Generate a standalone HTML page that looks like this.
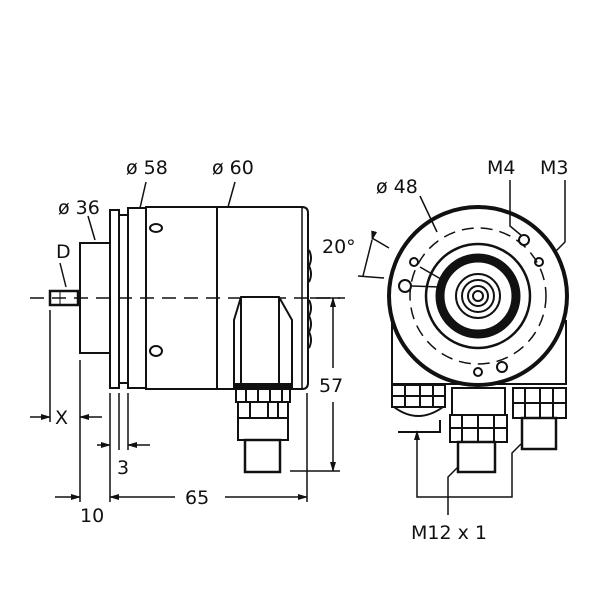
<!DOCTYPE html>
<html><head><style>
html,body{margin:0;padding:0;background:#fff;}
svg{display:block;}
text{font-family:"DejaVu Sans","Liberation Sans",sans-serif;font-size:19px;fill:#111;}
</style></head><body>
<svg width="600" height="600" viewBox="0 0 600 600" xmlns="http://www.w3.org/2000/svg">
<defs><marker id="a" markerWidth="10" markerHeight="8" refX="9" refY="4" orient="auto" markerUnits="userSpaceOnUse"><path d="M0,1 L10,4 L0,7z" fill="#111"/></marker></defs>
<g fill="none" stroke="#111" stroke-width="2">
<!-- LEFT VIEW -->
<rect x="50" y="291" width="28" height="14" stroke-width="2.5"/>
<line x1="60" y1="291" x2="60" y2="305" stroke-width="1"/>
<rect x="80" y="243" width="30" height="110"/>
<rect x="110" y="210" width="9" height="178"/>
<rect x="119" y="215" width="9" height="168"/>
<rect x="128" y="208" width="18" height="180"/>
<rect x="146" y="207" width="71" height="182"/>
<path d="M217,207 H302 Q308,207 308,213 V383 Q308,389 302,389 H217"/>
<line x1="302" y1="207" x2="302" y2="389" stroke-width="1.5"/>
<path d="M309,250 q4,8 0,16 q4,8 0,16 M309,300 q4,8 0,16 q4,8 0,16 q4,8 0,16" stroke-width="2"/>
<ellipse cx="156" cy="228" rx="6" ry="4"/><ellipse cx="156" cy="351" rx="6" ry="5"/>
<line x1="30" y1="298" x2="345" y2="298" stroke-dasharray="14,8" stroke-width="1.5"/>
<!-- connector -->
<path d="M241,297 H279 L292,320 V386 H234 V320 Z" fill="#fff"/>
<line x1="241" y1="297" x2="241" y2="386"/><line x1="279" y1="297" x2="279" y2="386"/>
<rect x="234" y="384" width="58" height="5" fill="#111"/>
<rect x="236" y="389" width="54" height="13"/><rect x="238" y="402" width="50" height="16"/>
<path d="M246,389v13 M258,389v13 M270,389v13 M282,389v13 M250,402v16 M268,402v16 M278,402v16"/>
<rect x="238" y="418" width="50" height="22"/>
<rect x="245" y="440" width="35" height="32" stroke-width="2.5"/>
<!-- leaders -->
<line x1="66" y1="287" x2="60" y2="263" stroke-width="1.5"/>
<line x1="95" y1="240" x2="88" y2="216" stroke-width="1.5"/>
<line x1="140" y1="208" x2="146" y2="182" stroke-width="1.5"/>
<line x1="228" y1="207" x2="235" y2="182" stroke-width="1.5"/>
<!-- dims -->
<g stroke-width="1.5">
<line x1="50" y1="310" x2="50" y2="422"/><line x1="80" y1="360" x2="80" y2="502"/>
<line x1="30" y1="417" x2="50" y2="417" marker-end="url(#a)"/><line x1="102" y1="417" x2="80" y2="417" marker-end="url(#a)"/>
<line x1="110" y1="393" x2="110" y2="502"/><line x1="119" y1="393" x2="119" y2="450"/><line x1="128" y1="393" x2="128" y2="450"/>
<line x1="97" y1="445" x2="110" y2="445" marker-end="url(#a)"/><line x1="150" y1="445" x2="128" y2="445" marker-end="url(#a)"/>
<line x1="55" y1="497" x2="80" y2="497" marker-end="url(#a)"/>
<line x1="175" y1="497" x2="110" y2="497" marker-end="url(#a)"/><line x1="225" y1="497" x2="307" y2="497" marker-end="url(#a)"/>
<line x1="307" y1="393" x2="307" y2="502"/>
<line x1="310" y1="298" x2="340" y2="298"/><line x1="290" y1="471" x2="340" y2="471"/>
<line x1="333" y1="368" x2="333" y2="298" marker-end="url(#a)"/><line x1="333" y1="402" x2="333" y2="471" marker-end="url(#a)"/>
</g>
<!-- RIGHT VIEW -->
<path d="M392,320 V384 H566 V320" />
<rect x="392" y="385" width="53" height="22"/><path d="M392,396H445 M405,385v22 M420,385v22 M433,385v22"/>
<path d="M394,407 Q418,425 443,407 M398,432 H440 V420" />
<rect x="452" y="388" width="53" height="27"/>
<rect x="450" y="415" width="57" height="27"/><path d="M450,428H507 M462,415v27 M478,415v27 M494,415v27"/>
<rect x="458" y="442" width="37" height="30" stroke-width="2.5"/>
<rect x="513" y="388" width="53" height="30"/><path d="M513,403H566 M525,388v30 M540,388v30 M553,388v30"/>
<rect x="522" y="418" width="34" height="31" stroke-width="2.5"/>
<circle cx="478" cy="296" r="89" fill="#fff" stroke-width="4"/>
<circle cx="478" cy="296" r="68" stroke-dasharray="12,7" stroke-width="1.5"/>
<circle cx="478" cy="296" r="52" stroke-width="2.5"/>
<circle cx="478" cy="296" r="38" stroke-width="9"/>
<circle cx="478" cy="296" r="22"/><circle cx="478" cy="296" r="16"/><circle cx="478" cy="296" r="10"/><circle cx="478" cy="296" r="5"/>
<circle cx="524" cy="240" r="5"/><circle cx="539" cy="262" r="4"/><circle cx="414" cy="262" r="4"/>
<circle cx="405" cy="286" r="6"/><circle cx="478" cy="372" r="4"/><circle cx="502" cy="367" r="5"/>
<g stroke-width="1.5">
<line x1="420" y1="196" x2="437" y2="232"/>
<polyline points="510,180 510,226 522,236"/>
<polyline points="565,180 565,242 555,252"/>
<line x1="412" y1="286" x2="440" y2="287"/><line x1="420" y1="267" x2="446" y2="282"/>
<line x1="389" y1="248" x2="372" y2="238"/><line x1="384" y1="278" x2="358" y2="276"/>
<line x1="372" y1="240" x2="363" y2="276" marker-start="url(#a)"/>
<line x1="417" y1="440" x2="417" y2="431" marker-end="url(#a)"/>
<polyline points="417,440 417,497 512,497 512,453 521,444"/>
<polyline points="448,515 448,477 458,467"/>
</g>
</g>
<text x="56" y="258">D</text>
<text x="58" y="214">ø 36</text>
<text x="126" y="174">ø 58</text>
<text x="212" y="174">ø 60</text>
<text x="55" y="424">X</text>
<text x="117" y="474">3</text>
<text x="80" y="522">10</text>
<text x="185" y="504">65</text>
<text x="319" y="392">57</text>
<text x="376" y="193">ø 48</text>
<text x="487" y="174">M4</text>
<text x="540" y="174">M3</text>
<text x="322" y="253">20°</text>
<text x="411" y="539">M12 x 1</text>
</svg>
</body></html>
